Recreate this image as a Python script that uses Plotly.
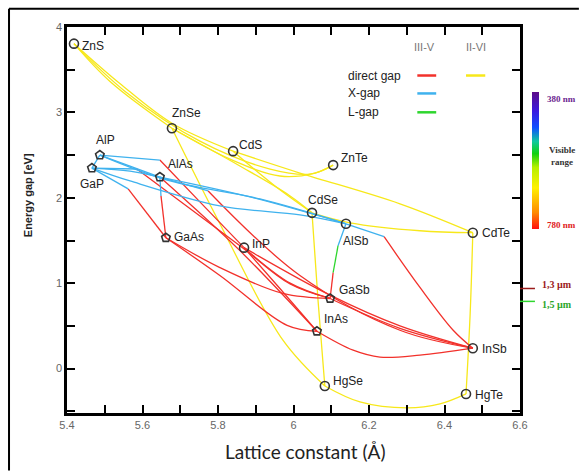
import plotly.graph_objects as go

# ---------------- data ----------------
names = ["ZnS", "ZnSe", "CdS", "ZnTe", "CdSe", "AlSb", "CdTe", "AlP", "GaP",
         "AlAs", "GaAs", "InP", "GaSb", "InAs", "InSb", "HgSe", "HgTe"]
lattice = [5.4185, 5.678, 5.840, 6.105, 6.049, 6.139, 6.475, 5.487, 5.466,
           5.646, 5.662, 5.869, 6.097, 6.062, 6.475, 6.083, 6.457]
gap = [3.805, 2.814, 2.546, 2.383, 1.824, 1.696, 1.591, 2.500, 2.348,
       2.243, 1.532, 1.416, 0.821, 0.437, 0.239, -0.204, -0.297]

x_ticks = [5.4, 5.6, 5.8, 6.0, 6.2, 6.4, 6.6]
x_tick_text = ["5.4", "5.6", "5.8", "6", "6.2", "6.4", "6.6"]
y_ticks = [0, 1, 2, 3, 4]
y_tick_text = ["0", "1", "2", "3", "4"]

# alloy curves, grouped by gap type
yellow_curves = [  # II-VI direct gap
    [(5.4185, 3.805), (5.514, 3.362), (5.678, 2.814)],
    [(5.4185, 3.805), (5.540, 3.339), (5.678, 2.873), (5.840, 2.546)],
    [(5.4185, 3.805), (5.554, 3.246), (5.752, 2.663), (5.938, 2.337), (6.044, 2.278), (6.105, 2.383)],
    [(5.678, 2.814), (5.832, 2.453), (5.964, 2.255), (6.057, 2.290), (6.105, 2.383)],
    [(5.678, 2.814), (5.858, 2.372), (5.991, 2.022), (6.049, 1.824)],
    [(5.678, 2.814), (5.805, 1.696), (5.972, 0.332), (6.083, -0.204)],
    [(5.840, 2.546), (5.951, 2.138), (6.049, 1.824)],
    [(5.840, 2.546), (6.017, 2.290), (6.282, 1.929), (6.475, 1.591)],
    [(6.049, 1.824), (6.150, 1.707), (6.335, 1.614), (6.475, 1.591)],
    [(6.049, 1.824), (6.065, 0.798), (6.083, -0.204)],
    [(6.475, 1.591), (6.468, 0.647), (6.457, -0.297)],
    [(6.083, -0.204), (6.176, -0.391), (6.301, -0.461), (6.388, -0.414), (6.457, -0.297)],
]
blue_curves = [  # X gap
    [(5.487, 2.500), (5.466, 2.348)],
    [(5.487, 2.500), (5.567, 2.372), (5.646, 2.243)],
    [(5.466, 2.348), (5.567, 2.313), (5.646, 2.243)],
    [(5.487, 2.500), (5.673, 2.197), (5.911, 1.987), (6.139, 1.696)],
    [(5.646, 2.243), (5.885, 2.010), (6.139, 1.696)],
    [(5.466, 2.348), (5.567, 2.197), (5.805, 1.905), (6.017, 1.800), (6.139, 1.696)],
    [(5.487, 2.500), (5.646, 2.442)],
    [(5.466, 2.348), (5.585, 2.337)],
    [(5.466, 2.348), (5.562, 2.104)],
    [(5.646, 2.243), (5.649, 2.022)],
    [(5.646, 2.243), (5.774, 2.080)],
    [(6.139, 1.696), (6.118, 1.439)],
    [(6.139, 1.696), (6.240, 1.544)],
]
green_curves = [  # L gap
    [(6.118, 1.439), (6.105, 1.124)],
]
red_curves = [  # III-V direct gap
    [(5.646, 2.442), (5.752, 1.952), (5.869, 1.416)],
    [(5.585, 2.337), (5.858, 1.439), (5.991, 0.990), (6.097, 0.821)],
    [(5.562, 2.104), (5.662, 1.532)],
    [(5.649, 2.022), (5.662, 1.532)],
    [(5.646, 2.243), (5.858, 1.381), (6.062, 0.437)],
    [(5.774, 2.080), (6.017, 1.090), (6.282, 0.449), (6.475, 0.239)],
    [(5.869, 1.416), (5.964, 0.938), (6.062, 0.437)],
    [(5.869, 1.416), (5.991, 1.000), (6.097, 0.821)],
    [(5.869, 1.416), (6.097, 0.860), (6.282, 0.500), (6.475, 0.239)],
    [(6.097, 0.821), (6.282, 0.472), (6.475, 0.239)],
    [(6.062, 0.437), (6.158, 0.215), (6.229, 0.134), (6.335, 0.157), (6.475, 0.239)],
    [(5.662, 1.532), (5.805, 1.183), (5.972, 0.880), (6.097, 0.821)],
    [(5.662, 1.532), (5.805, 1.090), (5.983, 0.507), (6.062, 0.437)],
    [(6.105, 1.124), (6.097, 0.821)],
    [(6.240, 1.544), (6.335, 0.950), (6.423, 0.449), (6.475, 0.239)],
]

# ---------------- styles ----------------
RED = "#f2312b"
YELLOW = "#f7e81a"
BLUE = "#3fb2ee"
GREEN = "#2ed62e"
pentagons = {"AlP", "GaP", "AlAs", "GaAs", "GaSb", "InAs"}
# label offsets (px) : (xshift, yshift, xanchor)
label_off = {
    "ZnS": (6, -2, "left"), "ZnSe": (-2, 15, "left"), "CdS": (4, 6, "left"),
    "ZnTe": (6, 7, "left"), "CdSe": (-6, 13, "left"), "AlSb": (-5, -17, "left"),
    "CdTe": (7, 0, "left"), "AlP": (-6, 15, "left"), "GaP": (-14, -16, "left"),
    "AlAs": (6, 13, "left"), "GaAs": (6, 1, "left"), "InP": (6, 4, "left"),
    "GaSb": (7, 8, "left"), "InAs": (5, 12, "left"), "InSb": (7, -1, "left"),
    "HgSe": (6, 5, "left"), "HgTe": (7, -1, "left"),
}

fig = go.Figure()


def add_curves(curves, color):
    for c in curves:
        fig.add_trace(go.Scatter(
            x=[p[0] for p in c], y=[p[1] for p in c], mode="lines",
            line=dict(color=color, width=1.3, shape="spline", smoothing=1.0),
            hoverinfo="skip", showlegend=False))


add_curves(yellow_curves, YELLOW)
add_curves(red_curves, RED)
add_curves(blue_curves, BLUE)
add_curves(green_curves, GREEN)

symbols = ["pentagon-open" if n in pentagons else "circle-open" for n in names]
fig.add_trace(go.Scatter(
    x=lattice, y=gap, mode="markers",
    marker=dict(symbol=symbols, size=9, color="#333333", line=dict(width=1.6)),
    showlegend=False, hoverinfo="text", text=names))

# colour bar for visible range (dummy trace, no data points)
fig.add_trace(go.Scatter(
    x=[None], y=[None], mode="markers", showlegend=False,
    marker=dict(color=[0], cmin=0, cmax=1, showscale=True,
                colorscale=[[0.0, "#ff1010"], [0.12, "#ff8a00"], [0.3, "#fff000"],
                            [0.45, "#b6f000"], [0.55, "#10d010"], [0.64, "#10c8a0"],
                            [0.74, "#1050ff"], [0.86, "#3a1ae0"], [1.0, "#5c0c88"]],
                colorbar=dict(x=1.0265, xanchor="left", y=0.6545, yanchor="middle",
                              thickness=7, len=137, lenmode="pixels",
                              outlinewidth=0, showticklabels=False, ticks="",
                              xpad=0, ypad=0))))

ann = []
for n, a, e in zip(names, lattice, gap):
    xs, ys, xa = label_off[n]
    ann.append(dict(x=a, y=e, text=n, showarrow=False, xanchor=xa, yanchor="middle",
                    xshift=xs, yshift=ys,
                    font=dict(family="Liberation Sans, Arial", size=12, color="#222")))

# legend block
leg_font = dict(family="Liberation Sans, Arial", size=12, color="#222")
ann += [
    dict(x=6.348, y=3.770, text="III-V", showarrow=False,
         font=dict(family="Liberation Sans, Arial", size=11, color="#777")),
    dict(x=6.483, y=3.770, text="II-VI", showarrow=False,
         font=dict(family="Liberation Sans, Arial", size=11, color="#777")),
    dict(x=6.139, y=3.432, text="direct gap", showarrow=False, xanchor="left", font=leg_font),
    dict(x=6.139, y=3.222, text="X-gap", showarrow=False, xanchor="left", font=leg_font),
    dict(x=6.139, y=3.001, text="L-gap", showarrow=False, xanchor="left", font=leg_font),
]
shapes = [
    dict(type="line", x0=6.328, x1=6.378, y0=3.432, y1=3.432, line=dict(color=RED, width=2.5)),
    dict(type="line", x0=6.457, x1=6.508, y0=3.432, y1=3.432, line=dict(color=YELLOW, width=2.5)),
    dict(type="line", x0=6.328, x1=6.378, y0=3.222, y1=3.222, line=dict(color=BLUE, width=2.5)),
    dict(type="line", x0=6.328, x1=6.378, y0=3.001, y1=3.001, line=dict(color=GREEN, width=2.5)),
]

# side annotations (outside the axes)
serif = "Liberation Serif, Times New Roman"
ann += [
    dict(xref="paper", yref="paper", x=1.056, y=0.831, text="<b>380 nm</b>", showarrow=False,
         xanchor="left", font=dict(family=serif, size=9, color="#6b1e8f")),
    dict(xref="paper", yref="paper", x=1.093, y=0.699, text="<b>Visible<br>range</b>",
         showarrow=False, xanchor="center", font=dict(family=serif, size=9, color="#333")),
    dict(xref="paper", yref="paper", x=1.056, y=0.486, text="<b>780 nm</b>", showarrow=False,
         xanchor="left", font=dict(family=serif, size=9, color="#e0201a")),
    dict(xref="paper", yref="y", x=1.044, y=0.985, text="<b>1,3 µm</b>", showarrow=False,
         xanchor="left", font=dict(family=serif, size=10, color="#9b1b1b")),
    dict(xref="paper", yref="y", x=1.044, y=0.752, text="<b>1,5 µm</b>", showarrow=False,
         xanchor="left", font=dict(family=serif, size=10, color="#2aa52a")),
    dict(xref="paper", yref="paper", x=-0.104, y=0.564, text="<b>Energy gap [eV]</b>",
         showarrow=False, textangle=-90,
         font=dict(family="Liberation Sans, Arial", size=11, color="#222")),
    dict(xref="paper", yref="paper", x=0.525, y=-0.136, text="Lattice constant (Å)",
         showarrow=False, font=dict(family="Lato, Liberation Sans", size=19, color="#222")),
]
shapes += [
    dict(type="line", xref="paper", yref="y", x0=1.0, x1=1.033, y0=0.938, y1=0.938,
         line=dict(color="#9b1b1b", width=1.5)),
    dict(type="line", xref="paper", yref="y", x0=1.0, x1=1.033, y0=0.787, y1=0.787,
         line=dict(color="#2ed62e", width=1.5)),
    # outer frame of the figure (top and left edges visible)
    dict(type="line", xref="paper", yref="paper", x0=-0.128, x1=1.13, y0=1.047, y1=1.047,
         line=dict(color="black", width=2)),
    dict(type="line", xref="paper", yref="paper", x0=-0.128, x1=-0.128, y0=-0.149, y1=1.047,
         line=dict(color="black", width=2)),
]

axis_common = dict(showline=True, linecolor="black", linewidth=2.5, mirror="allticks",
                   ticks="inside", ticklen=8, tickwidth=2, tickcolor="black",
                   showgrid=False, zeroline=False,
                   tickfont=dict(family="Liberation Sans, Arial", size=11, color="#666"))

fig.update_layout(
    width=580, height=471,
    margin=dict(l=67, r=60, t=27, b=58, autoexpand=False),
    paper_bgcolor="white", plot_bgcolor="white",
    annotations=ann, shapes=shapes, showlegend=False,
    xaxis=dict(range=[5.4, 6.6], tickvals=x_ticks, ticktext=x_tick_text,
               minor=dict(dtick=0.1, tick0=5.4, ticks="inside", ticklen=8, tickwidth=2,
                          tickcolor="black"), **axis_common),
    yaxis=dict(range=[-0.52, 4.0], tickvals=y_ticks, ticktext=y_tick_text,
               minor=dict(dtick=0.5, tick0=0, ticks="inside", ticklen=8, tickwidth=2,
                          tickcolor="black"), **axis_common),
)

# remove the default page margin so the figure fills the 580x471 window exactly
fig.write_html("out.html", config={"displayModeBar": False},
               post_script="document.body.style.margin='0';"
                           "document.body.style.overflow='hidden';")
